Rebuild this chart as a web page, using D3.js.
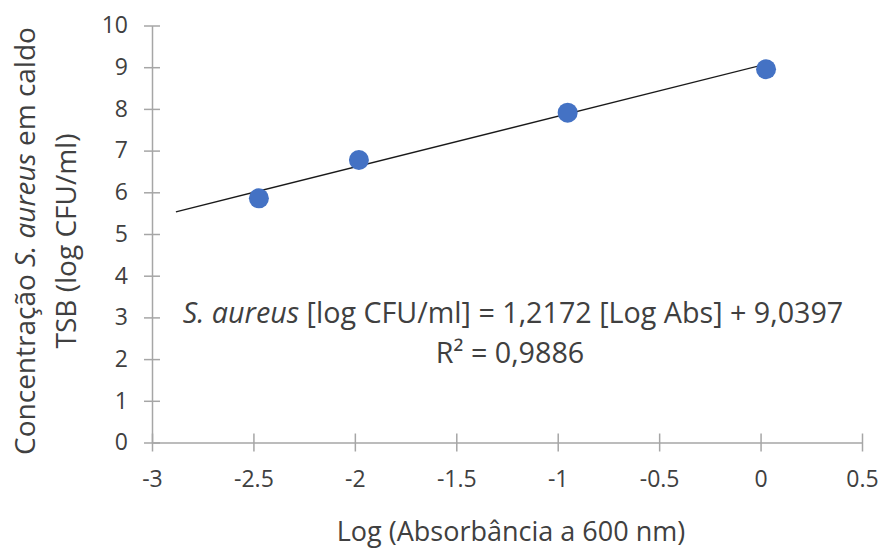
<!DOCTYPE html>
<html>
<head>
<meta charset="utf-8">
<script src="https://cdn.jsdelivr.net/npm/d3@7"></script>
<style>
  body { margin: 0; background: #fff; }
  text { font-family: "Open Sans", sans-serif; fill: #404040; }
</style>
</head>
<body>
<div id="chart"></div>
<script>
// data
const logAbs = [-2.473, -1.98, -0.951, 0.027];
const logCfu = [5.856, 6.775, 7.909, 8.95];
const xTicks = [-3, -2.5, -2, -1.5, -1, -0.5, 0, 0.5];
const yTicks = [0, 1, 2, 3, 4, 5, 6, 7, 8, 9, 10];
const slope = 1.2172, intercept = 9.0397;
const trendFrom = -2.882, trendTo = 0.027;

const width = 884, height = 550;
const margin = {left: 152, right: 22, top: 25.5, bottom: 107.5};

const svg = d3.select("#chart")
    .append("svg")
    .attr("width", width)
    .attr("height", height);

const x = d3.scaleLinear().domain([-3, 0.5]).range([margin.left, width - margin.right]);
const y = d3.scaleLinear().domain([0, 10]).range([height - margin.bottom, margin.top]);

// x axis, ticks cross the line
const xAxis = svg.append("g")
    .attr("transform", "translate(0," + y(0) + ")")
    .call(d3.axisBottom(x).tickValues(xTicks).tickSize(0).tickFormat(d => String(d)));
xAxis.select(".domain").attr("stroke", "#a6a6a6").attr("stroke-width", 1.5);
xAxis.selectAll(".tick line").remove();
xAxis.selectAll(".tick").append("line")
    .attr("y1", -9).attr("y2", 9)
    .attr("stroke", "#a6a6a6").attr("stroke-width", 1.5);
xAxis.selectAll(".tick text")
    .attr("y", 44)
    .attr("dy", 0)
    .style("font-size", "23px")
    .attr("fill", "#404040");

// y axis
const yAxis = svg.append("g")
    .attr("transform", "translate(" + x(-3) + ",0)")
    .call(d3.axisLeft(y).tickValues(yTicks).tickSize(0));
yAxis.select(".domain").attr("stroke", "#a6a6a6").attr("stroke-width", 1.5);
yAxis.selectAll(".tick line").remove();
yAxis.selectAll(".tick").append("line")
    .attr("x1", -8).attr("x2", 8)
    .attr("stroke", "#a6a6a6").attr("stroke-width", 1.5);
yAxis.selectAll(".tick text")
    .attr("x", -24)
    .style("font-size", "23px")
    .attr("fill", "#404040");

// trend line
svg.append("line")
    .attr("x1", x(trendFrom)).attr("y1", y(slope * trendFrom + intercept))
    .attr("x2", x(trendTo)).attr("y2", y(slope * trendTo + intercept))
    .attr("stroke", "#1a1a1a")
    .attr("stroke-width", 1.3);

// points
svg.selectAll("circle.pt")
    .data(logAbs)
    .enter()
    .append("circle")
    .attr("class", "pt")
    .attr("cx", d => x(d))
    .attr("cy", (d, i) => y(logCfu[i]))
    .attr("r", 10)
    .style("fill", "#4472c4");

// equation label
const eq = svg.append("text")
    .attr("x", 513)
    .attr("y", 323)
    .attr("text-anchor", "middle")
    .style("font-size", "28.7px");
eq.append("tspan").style("font-style", "italic").text("S. aureus");
eq.append("tspan").text(" [log CFU/ml] = 1,2172 [Log Abs] + 9,0397");

svg.append("text")
    .attr("x", 510)
    .attr("y", 363)
    .attr("text-anchor", "middle")
    .style("font-size", "28.7px")
    .text("R² = 0,9886");

// x axis title
svg.append("text")
    .attr("x", 511)
    .attr("y", 541)
    .attr("text-anchor", "middle")
    .style("font-size", "27px")
    .text("Log (Absorbância a 600 nm)");

// y axis title, two lines
const yt = svg.append("g")
    .attr("transform", "translate(35,241) rotate(-90)");
const l1 = yt.append("text")
    .attr("x", 0).attr("y", 0)
    .attr("text-anchor", "middle")
    .style("font-size", "28px");
l1.append("tspan").text("Concentração ");
l1.append("tspan").style("font-style", "italic").text("S. aureus");
l1.append("tspan").text(" em caldo");
yt.append("text")
    .attr("x", 0).attr("y", 41)
    .attr("text-anchor", "middle")
    .style("font-size", "28px")
    .text("TSB (log CFU/ml)");
</script>
</body>
</html>
